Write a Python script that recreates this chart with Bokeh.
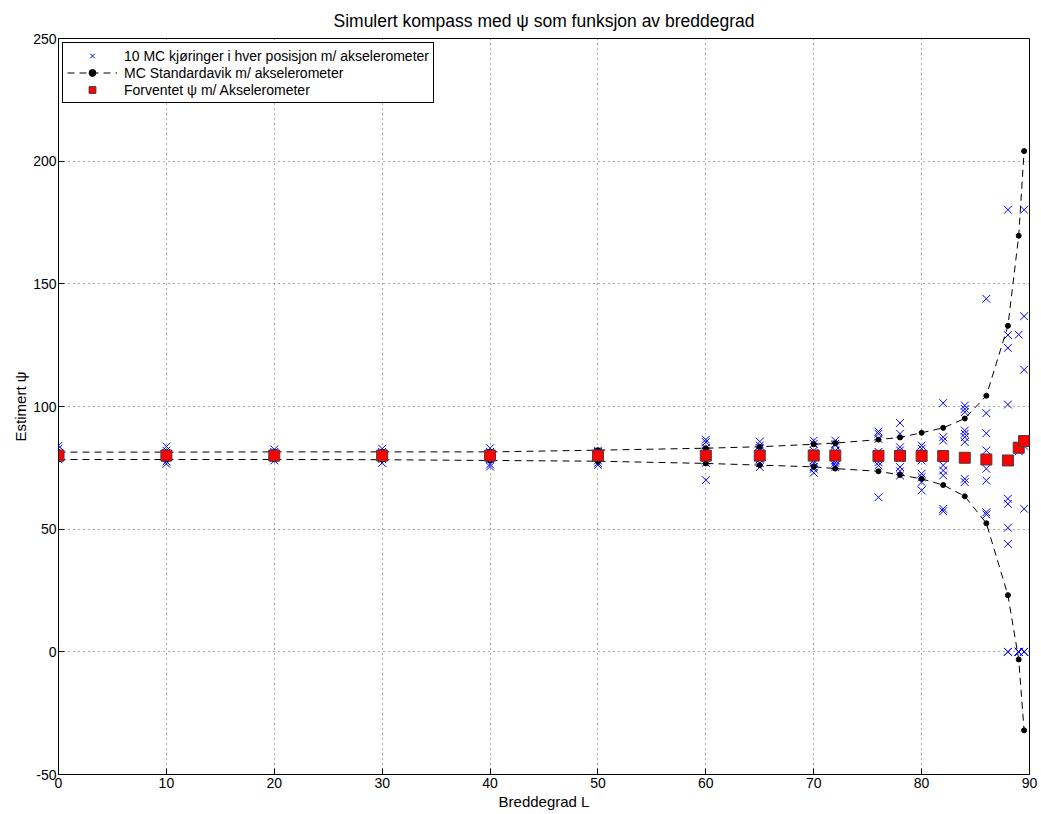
from bokeh.plotting import figure
from bokeh.models import FixedTicker, Legend, LegendItem
from bokeh.embed import file_html
from bokeh.resources import INLINE

# ---------------- data ----------------
latitudes = [0, 10, 20, 30, 40, 50, 60, 65, 70, 72, 76, 78, 80, 82, 84, 86, 88, 89, 89.5]

expected_psi = [80.0, 80.0, 80.0, 80.0, 80.0, 80.0, 80.0, 80.0, 80.0, 80.0,
                79.9, 79.9, 79.9, 79.8, 79.1, 78.4, 78.0, 83.2, 85.9]

std_upper = [81.4, 81.4, 81.5, 81.5, 81.5, 82.2, 83.0, 83.6, 84.6, 85.1,
             86.5, 87.4, 89.3, 91.3, 95.1, 104.4, 132.9, 169.6, 204.1]
std_lower = [78.4, 78.4, 78.4, 78.3, 78.0, 77.7, 76.8, 76.1, 75.4, 74.7,
             73.6, 72.1, 70.5, 68.0, 63.4, 52.4, 23.1, -3.1, -32.0]

mc_runs = [
    [84.0, 82.8, 81.0, 80.5, 80.0, 79.5, 79.0, 78.5, 80.2, 79.2],   # 0
    [83.7, 76.6, 77.6, 81.0, 80.0, 79.5, 80.5, 82.0, 79.0, 80.3],   # 10
    [82.5, 78.0, 81.5, 79.0, 80.0, 80.5, 81.0, 79.5, 80.2, 79.8],   # 20
    [82.8, 77.0, 81.0, 79.0, 80.0, 80.5, 78.5, 81.5, 79.5, 80.2],   # 30
    [83.0, 76.4, 75.5, 81.0, 79.0, 80.0, 78.5, 81.5, 80.2, 79.2],   # 40
    [77.0, 76.2, 82.0, 81.0, 80.0, 79.0, 80.5, 79.5, 81.5, 78.0],   # 50
    [86.5, 85.5, 70.0, 83.0, 82.0, 80.0, 79.0, 78.0, 77.0, 81.5],   # 60
    [85.7, 84.1, 75.3, 76.9, 83.0, 81.0, 79.0, 80.0, 78.5, 82.0],   # 65
    [86.1, 84.8, 73.0, 74.6, 75.3, 82.0, 80.0, 78.0, 77.0, 81.0],   # 70
    [86.1, 84.8, 84.2, 76.0, 75.3, 77.0, 79.0, 81.0, 82.0, 78.0],   # 72
    [89.8, 88.9, 86.8, 77.3, 76.0, 63.0, 81.5, 80.0, 79.0, 78.5],   # 76
    [93.3, 88.9, 83.4, 82.1, 75.3, 73.6, 71.9, 80.0, 79.5, 79.0],   # 78
    [84.1, 82.8, 72.6, 71.2, 69.2, 65.8, 79.0, 80.0, 81.0, 78.0],   # 80
    [101.4, 87.5, 86.1, 79.3, 76.0, 73.9, 71.9, 58.3, 57.3, 80.5],  # 82
    [100.4, 99.0, 97.7, 90.2, 88.9, 87.5, 85.5, 70.5, 69.2, 79.0],  # 84
    [143.9, 97.3, 89.1, 82.1, 78.0, 74.6, 69.8, 56.9, 56.0, 79.0],  # 86
    [180.2, 129.1, 123.9, 100.8, 62.4, 60.3, 50.6, 44.0, 0.0, 0.0], # 88
    [129.3, 81.7, 0.0, 0.0, 0.0, 82.5, 84.0, 0.0, 83.0, 0.0],       # 89
    [180.2, 136.8, 115.0, 85.5, 58.3, 0.0, 0.0, 86.0, 84.0, 0.0],   # 89.5
]

x_ticks = [0, 10, 20, 30, 40, 50, 60, 70, 80, 90]
y_ticks = [-50, 0, 50, 100, 150, 200, 250]

title_text = "Simulert kompass med \u03c8 som funksjon av breddegrad"
x_label = "Breddegrad L"
y_label = "Estimert \u03c8"
legend_labels = ["10 MC kj\u00f8ringer i hver posisjon m/ akselerometer",
                 "MC Standardavik m/ akselerometer",
                 "Forventet \u03c8 m/ Akselerometer"]

# ---------------- figure ----------------
FONT = "Liberation Sans"

p = figure(width=1038, height=812, x_range=(0, 90), y_range=(-50, 250),
           output_backend="svg", toolbar_location=None,
           min_border_left=58, min_border_right=9, min_border_top=38, min_border_bottom=38)

p.title.text = title_text
p.title.align = "center"
p.title.text_font = FONT
p.title.text_font_size = "17.5px"
p.title.text_font_style = "normal"
p.title.text_color = "black"
p.title.standoff = 15

p.outline_line_color = "black"
p.outline_line_alpha = 1.0
p.outline_line_width = 1
p.background_fill_color = "white"
p.border_fill_color = "white"

for ax, ticks in ((p.xaxis[0], x_ticks), (p.yaxis[0], y_ticks)):
    ax.ticker = FixedTicker(ticks=ticks)
    ax.major_label_overrides = {t: str(t) for t in ticks}
    ax.major_tick_in = 6
    ax.major_tick_out = 0
    ax.minor_tick_in = 0
    ax.minor_tick_out = 0
    ax.axis_line_color = "black"
    ax.major_tick_line_color = "black"
    ax.major_label_text_font = FONT
    ax.major_label_text_font_size = "14px"
    ax.major_label_text_color = "black"
    ax.axis_label_text_font = FONT
    ax.axis_label_text_font_size = "15px"
    ax.axis_label_text_font_style = "normal"
    ax.axis_label_text_color = "black"
    ax.major_label_standoff = 3
    ax.axis_label_standoff = 2

p.yaxis[0].major_label_standoff = 2
p.yaxis[0].axis_label_standoff = 1

p.xaxis.axis_label = x_label
p.yaxis.axis_label = y_label

for g in (p.xgrid[0], p.ygrid[0]):
    g.grid_line_color = "black"
    g.grid_line_alpha = 0.65
    g.grid_line_dash = "1 4"
    g.grid_line_width = 1
p.xgrid[0].ticker = FixedTicker(ticks=x_ticks)
p.ygrid[0].ticker = FixedTicker(ticks=y_ticks)

# MC runs (crosses)
mc_x = []
mc_y = []
for lat, runs in zip(latitudes, mc_runs):
    for v in runs:
        mc_x.append(lat)
        mc_y.append(v)
r_mc = p.scatter(mc_x, mc_y, marker="x", size=11, line_color="#0000ff", line_width=1)

# std lines
r_up = p.line(latitudes, std_upper, line_color="black", line_dash="7 5", line_width=1)
r_lo = p.line(latitudes, std_lower, line_color="black", line_dash="7 5", line_width=1)
r_up_d = p.scatter(latitudes, std_upper, marker="circle", size=5, fill_color="black", line_color="black")
r_lo_d = p.scatter(latitudes, std_lower, marker="circle", size=5, fill_color="black", line_color="black")

# expected
r_exp = p.scatter(latitudes, expected_psi, marker="square", size=11,
                  fill_color="#ff0000", line_color="#404040", line_width=1)

legend = Legend(items=[
    LegendItem(label=legend_labels[0], renderers=[r_mc]),
    LegendItem(label=legend_labels[1], renderers=[r_up, r_up_d]),
    LegendItem(label=legend_labels[2], renderers=[r_exp]),
], location="top_left")
legend.label_text_font = FONT
legend.label_text_font_size = "14px"
legend.label_text_color = "black"
legend.border_line_color = "black"
legend.border_line_alpha = 1.0
legend.border_line_width = 1
legend.background_fill_alpha = 1.0
legend.glyph_width = 50
legend.glyph_height = 17
legend.label_height = 17
legend.label_standoff = 7
legend.spacing = 0
legend.padding = 4
legend.margin = 4
p.add_layout(legend)

open("out.html", "w").write(file_html(p, INLINE))
